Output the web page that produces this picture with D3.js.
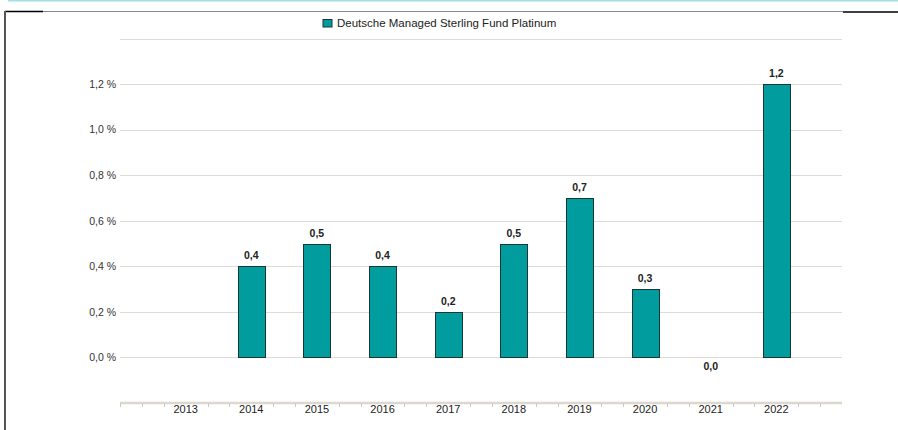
<!DOCTYPE html>
<html>
<head>
<meta charset="utf-8">
<script src="https://cdn.jsdelivr.net/npm/d3@7"></script>
<style>
  body { margin: 0; background: #fff; }
  svg { display: block; font-family: "Liberation Sans", Arial, sans-serif; }
</style>
</head>
<body>
<div id="chart"></div>
<script>
// Chart data
const years = [2013, 2014, 2015, 2016, 2017, 2018, 2019, 2020, 2021, 2022];
const values = [null, 0.4, 0.5, 0.4, 0.2, 0.5, 0.7, 0.3, 0.0, 1.2];
const yTicks = [0, 0.2, 0.4, 0.6, 0.8, 1.0, 1.2, 1.4];
const seriesName = "Deutsche Managed Sterling Fund Platinum";

const width = 898, height = 430;
const barColor = "#009c9e";

const svg = d3.select("#chart").append("svg")
    .attr("width", width)
    .attr("height", height);

// frame lines
svg.append("line").attr("x1", 8).attr("x2", width).attr("y1", 0.5).attr("y2", 0.5)
    .attr("stroke", "#a6dfdf").attr("stroke-width", 2);
svg.append("line").attr("x1", 5).attr("x2", 843).attr("y1", 11.5).attr("y2", 11.5)
    .attr("stroke", "#8a8a8a").attr("stroke-width", 1);
svg.append("line").attr("x1", 5).attr("x2", 43).attr("y1", 11.5).attr("y2", 11.5)
    .attr("stroke", "#000").attr("stroke-width", 1.5);
svg.append("line").attr("x1", 843).attr("x2", width).attr("y1", 12).attr("y2", 12)
    .attr("stroke", "#000").attr("stroke-width", 1.5);
svg.append("line").attr("x1", 5).attr("x2", 5).attr("y1", 11).attr("y2", height)
    .attr("stroke", "#555").attr("stroke-width", 2);

// scales
const x = d3.scaleLinear().domain([2012, 2023]).range([120, 842]);
const y = d3.scaleLinear().domain([-0.2, 1.4]).range([403, 38.5]);
const barW = 27;

// gridlines
svg.append("g")
    .selectAll("line")
    .data(yTicks)
    .join("line")
    .attr("x1", 120).attr("x2", 842)
    .attr("y1", d => Math.round(y(d)) + 0.5)
    .attr("y2", d => Math.round(y(d)) + 0.5)
    .attr("stroke", "#dedbd5")
    .attr("stroke-width", 1.2);

// y labels (skip top one)
svg.append("g")
    .selectAll("text")
    .data(yTicks.slice(0, -1))
    .join("text")
    .attr("x", 116)
    .attr("y", d => y(d) + 3.8)
    .attr("text-anchor", "end")
    .attr("font-size", 10.5)
    .attr("fill", "#333")
    .text(d => d.toFixed(1).replace(".", ",") + " %");

// x axis line with minor ticks
const axisY = 403;
svg.append("line").attr("x1", 120).attr("x2", 842).attr("y1", axisY).attr("y2", axisY)
    .attr("stroke", "#dcd8ce").attr("stroke-width", 2.5);
const minorTicks = d3.range(0, 34).map(i => 2012 + i / 3).filter((d, i) => i === 0 || i % 3 !== 0);
svg.append("g")
    .selectAll("line")
    .data(minorTicks)
    .join("line")
    .attr("x1", d => Math.round(x(d)) + 0.5)
    .attr("x2", d => Math.round(x(d)) + 0.5)
    .attr("y1", axisY)
    .attr("y2", axisY + 4)
    .attr("stroke", "#cfcbc0")
    .attr("stroke-width", 1);

svg.append("g")
    .selectAll("text")
    .data(years)
    .join("text")
    .attr("x", d => x(d))
    .attr("y", 413)
    .attr("text-anchor", "middle")
    .attr("font-size", 11)
    .attr("fill", "#222")
    .text(d => d);

// bars
const data = years.map((yr, i) => ({ year: yr, value: values[i] })).filter(d => d.value !== null);

svg.append("g")
    .selectAll("rect")
    .data(data.filter(d => d.value > 0))
    .join("rect")
    .attr("x", d => Math.round(x(d.year) - barW / 2) + 0.5)
    .attr("y", d => Math.round(y(d.value)) + 0.5)
    .attr("width", barW)
    .attr("height", d => Math.round(y(0)) - Math.round(y(d.value)))
    .attr("fill", barColor)
    .attr("stroke", "#173838")
    .attr("stroke-width", 1);

// value labels
svg.append("g")
    .selectAll("text")
    .data(data)
    .join("text")
    .attr("x", d => x(d.year))
    .attr("y", d => d.value > 0 ? y(d.value) - 7 : y(0) + 13)
    .attr("text-anchor", "middle")
    .attr("font-size", 10.5)
    .attr("font-weight", "bold")
    .attr("fill", "#222")
    .text(d => d.value.toFixed(1).replace(".", ","));

// legend
const legend = svg.append("g").attr("transform", "translate(323,19.5)");
legend.append("rect")
    .attr("width", 9).attr("height", 7.5)
    .attr("fill", barColor)
    .attr("stroke", "#173838");
legend.append("text")
    .attr("x", 14).attr("y", 7.8)
    .attr("font-size", 11.5)
    .attr("fill", "#222")
    .text(seriesName);
</script>
</body>
</html>
